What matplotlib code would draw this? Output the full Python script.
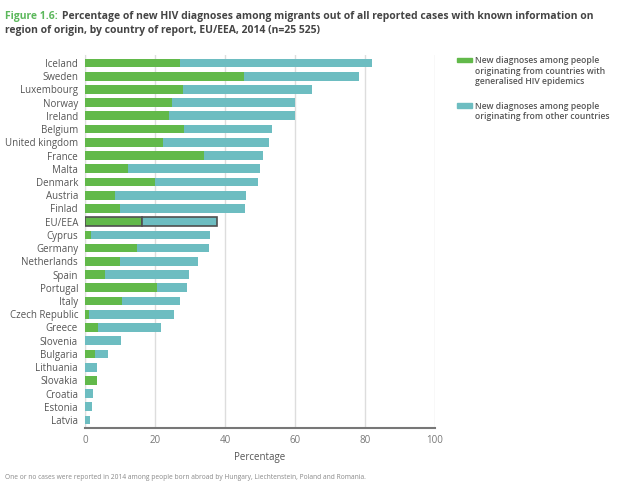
import matplotlib
matplotlib.use("Agg")
import matplotlib.pyplot as plt
from matplotlib.patches import Rectangle

plt.rcParams['font.family'] = ['Open Sans', 'DejaVu Sans']

countries = ["Iceland", "Sweden", "Luxembourg", "Norway", "Ireland", "Belgium",
             "United kingdom", "France", "Malta", "Denmark", "Austria", "Finlad",
             "EU/EEA", "Cyprus", "Germany", "Netherlands", "Spain", "Portugal",
             "Italy", "Czech Republic", "Greece", "Slovenia", "Bulgaria",
             "Lithuania", "Slovakia", "Croatia", "Estonia", "Latvia"]
# % from countries with generalised HIV epidemics
generalised = [27.2, 45.5, 27.9, 24.8, 24.1, 28.2, 22.4, 33.9, 12.4, 20.1, 8.7, 10.0,
               16.3, 1.6, 14.9, 10.0, 5.6, 20.5, 10.6, 1.2, 3.6, 0.0, 2.9,
               0.0, 3.4, 0.0, 0.0, 0.0]
# total % migrants (generalised + other)
total = [81.9, 78.2, 64.8, 60.0, 60.0, 53.4, 52.6, 50.9, 50.0, 49.5, 45.9, 45.7,
         37.6, 35.8, 35.4, 32.4, 29.8, 29.1, 27.2, 25.4, 21.7, 10.2, 6.5,
         3.5, 3.4, 2.2, 2.1, 1.4]
other = [t - g for t, g in zip(total, generalised)]

legend_labels = ["New diagnoses among people\noriginating from countries with\ngeneralised HIV epidemics",
                 "New diagnoses among people\noriginating from other countries"]

green = "#62b94a"
teal = "#6dbdc1"
txt = "#555555"

fig = plt.figure(figsize=(6.18, 4.90), dpi=100)
ax = fig.add_axes([0.1375, 0.1265, 0.5663, 0.7613])

y = range(len(countries))
edges = ["#505050" if c == "EU/EEA" else "none" for c in countries]
lws = [1.2 if c == "EU/EEA" else 0 for c in countries]
ax.barh(y, generalised, height=0.66, color=green, edgecolor=edges, linewidth=lws, zorder=3)
ax.barh(y, other, left=generalised, height=0.66, color=teal, edgecolor=edges, linewidth=lws, zorder=3)

ax.set_xlim(0, 100)
ax.set_ylim(27.6, -0.6)
ax.set_yticks(list(y))
ax.set_yticklabels(countries, fontsize=7, color=txt)
ax.set_xticks([0, 20, 40, 60, 80, 100])
ax.tick_params(axis='x', labelsize=7, colors="#777777", length=0, pad=5)
ax.tick_params(axis='y', length=0, pad=5)
ax.grid(axis='x', color="#dddddd", linewidth=1, zorder=0)
for s in ["top", "right"]:
    ax.spines[s].set_visible(False)
ax.spines["left"].set_color("#dddddd")
ax.spines["bottom"].set_color("#777777")
ax.spines["bottom"].set_linewidth(1.5)
ax.set_xlabel("Percentage", fontsize=7, color=txt, labelpad=4)

# legend drawn by hand so the swatch sits on the first text line
for col, lab, ytop in zip([green, teal], legend_labels, [0.885, 0.792]):
    fig.patches.append(Rectangle((0.740, ytop - 0.012), 0.024, 0.009, color=col,
                                 transform=fig.transFigure, figure=fig))
    fig.text(0.768, ytop, lab, fontsize=6.2, color=txt, fontweight="semibold",
             va="top", linespacing=1.2)

fig.text(0.008, 0.978, "Figure 1.6:", color="#5cb85c", fontsize=7.5, fontweight="bold", va="top")
fig.text(0.100, 0.978, "Percentage of new HIV diagnoses among migrants out of all reported cases with known information on",
         color="#444444", fontsize=7.5, fontweight="bold", va="top")
fig.text(0.008, 0.948, "region of origin, by country of report, EU/EEA, 2014 (n=25 525)",
         color="#444444", fontsize=7.5, fontweight="bold", va="top")
fig.text(0.008, 0.022, "One or no cases were reported in 2014 among people born abroad by Hungary, Liechtenstein, Poland and Romania.",
         color="#888888", fontsize=4.8)

fig.savefig("out.png", dpi=100)
